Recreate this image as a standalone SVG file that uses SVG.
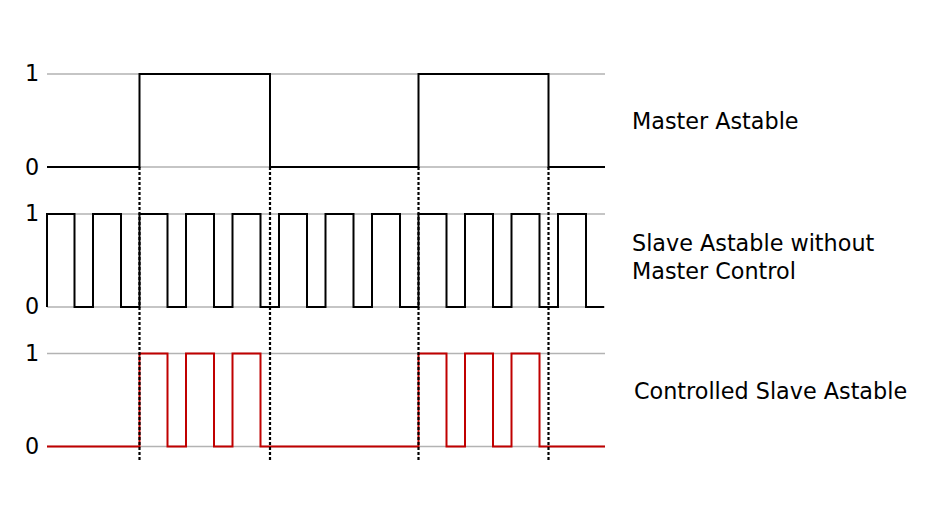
<svg xmlns="http://www.w3.org/2000/svg" width="931" height="512" viewBox="0 0 931 512">
<style>
.grid{stroke:#b3b3b3;stroke-width:1.6;fill:none}
.sig{stroke:#000;stroke-width:2;fill:none;stroke-linejoin:miter}
.red{stroke:#c00000;stroke-width:2;fill:none}
.dot{stroke:#000;stroke-width:2.2;stroke-dasharray:3,2;fill:none}
text{font-family:"DejaVu Sans","Noto Sans",sans-serif;font-size:22.3px;fill:#000}
</style>
<rect width="931" height="512" fill="#fff"/>
<g id="gridlines">
<path class="grid" d="M47,74H605M47,167H605M47,214H605M47,307H605M47,353.5H605M47,446.5H605"/>
</g>
<g id="axis-labels">
<text x="25" y="81">1</text>
<text x="25" y="175">0</text>
<text x="25" y="221">1</text>
<text x="25" y="314">0</text>
<text x="25" y="361">1</text>
<text x="25" y="454">0</text>
</g>
<g id="master">
<path class="sig" d="M47,167H139.5V74H270V167H418.5V74H548.5V167H605"/>
<text x="632" y="129">Master Astable</text>
</g>
<g id="slave">
<path class="sig" d="M47,307V214H74.5V307H93V214H121V307H139.5V214H167.5V307H186V214H214V307H232.5V214H260.5V307H279V214H307V307H325.5V214H353.5V307H372V214H400V307H418.5V214H446.5V307H465V214H493V307H511.5V214H539.5V307H558V214H586V307H604"/>
<text x="632" y="251">Slave Astable without</text>
<text x="632" y="279">Master Control</text>
</g>
<g id="controlled">
<path class="red" d="M47,446.5H139.5V353.5H167.5V446.5H186V353.5H214V446.5H232.5V353.5H260.5V446.5H418.5V353.5H446.5V446.5H465V353.5H493V446.5H511.5V353.5H539.5V446.5H605"/>
<text x="634" y="399">Controlled Slave Astable</text>
</g>
<g id="connectors">
<path class="dot" d="M139.5,167V462M270,167V462M418.5,167V462M548.5,167V462"/>
</g>
</svg>
